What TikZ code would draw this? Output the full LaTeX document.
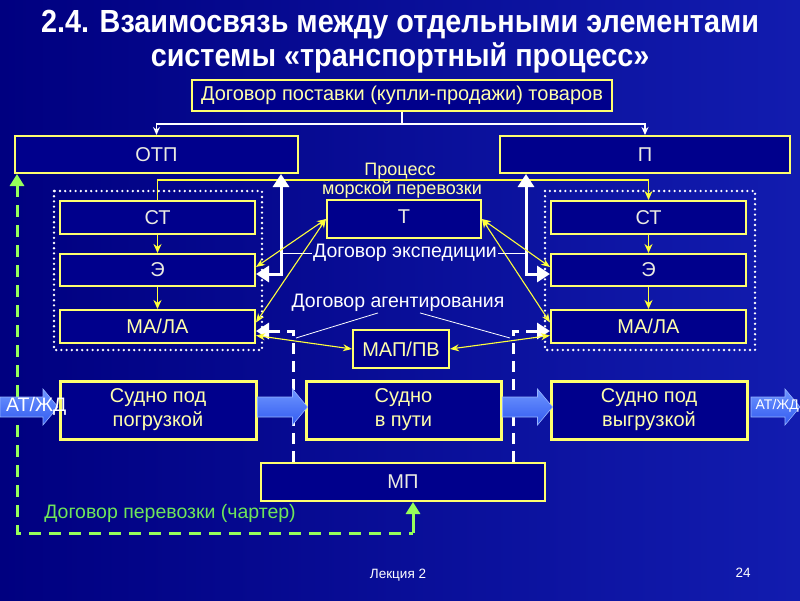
\documentclass[tikz,border=0pt]{standalone}
\usepackage{fontspec}
\setmainfont{Liberation Sans}
\newfontfamily\titlefont[FakeStretch=0.9]{Liberation Sans}
\usetikzlibrary{arrows.meta,calc}
\definecolor{bgL}{RGB}{0,0,128}
\definecolor{bgR}{RGB}{18,28,175}
\definecolor{boxfill}{RGB}{0,0,140}
\definecolor{boxyel}{RGB}{255,255,110}
\definecolor{arryel}{RGB}{255,255,60}
\definecolor{txty}{RGB}{255,255,170}
\definecolor{txtw}{RGB}{235,235,225}
\definecolor{grn}{RGB}{150,255,90}
\definecolor{grntxt}{RGB}{110,230,90}
\definecolor{baA}{RGB}{110,150,255}
\definecolor{baB}{RGB}{50,90,240}
\definecolor{baC}{RGB}{150,180,255}
\tikzset{
  box/.style={draw=boxyel, line width=2pt, fill=boxfill, inner sep=0pt,
    font=\fontsize{20}{23}\selectfont, text=txtw},
  ybox/.style={box, text=txty},
  sbox/.style={box, line width=3pt, align=center, text=txty,
    font=\fontsize{20}{24}\selectfont},
  yl/.style={draw=arryel, line width=1.6pt},
  yarr/.style={yl, -{Stealth[length=9pt,width=8pt]}},
  ydbl/.style={draw=arryel, line width=1.1pt,
    {Stealth[length=9pt,width=7pt]}-{Stealth[length=9pt,width=7pt]}},
  wthinarr/.style={draw=white, line width=1.5pt, -{Stealth[length=8pt,width=7pt]}},
  wthin/.style={draw=white, line width=0.8pt},
  wthick/.style={draw=white, line width=3pt},
  whead/.style={-{Triangle[length=13pt,width=16pt]}},
  wdash/.style={draw=white, line width=3pt, dash pattern=on 11pt off 7pt},
  gdash/.style={draw=grn, line width=3pt, dash pattern=on 12pt off 8pt},
  dotframe/.style={draw=white, line width=2.6pt, line cap=round, dash pattern=on 0pt off 5.2pt},
  lbl/.style={inner sep=1pt, font=\fontsize{19.5}{22}\selectfont, text=white},
  plbl/.style={inner sep=0pt, font=\fontsize{18}{21}\selectfont, text=txty},
  title/.style={inner sep=0pt, font=\titlefont\bfseries\fontsize{32}{36}\selectfont, text=white},
  foot/.style={inner sep=0pt, font=\fontsize{13.5}{16}\selectfont, text=white},
  barrowsty/.style={top color=baA, bottom color=baB, draw=baC, line width=0.6pt},
  pics/barrow/.style={code={
    \shade[barrowsty] (0,-10) -- ({#1-15},-10) -- ({#1-15},-18) -- (#1,0)
      -- ({#1-15},18) -- ({#1-15},10) -- (0,10) -- cycle;}}
}
\begin{document}
\begin{tikzpicture}[x=1pt,y=-1pt]
\useasboundingbox (0,0) rectangle (800,600);
\clip (0,0) rectangle (800,600);
\shade[left color=bgL, right color=bgR] (0,0) rectangle (800,600);

% title
\node[title] (t1) at (400,25) {2.4. Взаимосвязь между отдельными элементами};
\node[title] (t2) at (400,58) {системы «транспортный процесс»};

% dotted frames
\draw[dotframe] (54,191) rectangle (262,350);
\draw[dotframe] (545,191) rectangle (755,350);

% boxes
\node[ybox, minimum width=420, minimum height=31] (dog) at (402,95.5) {Договор поставки (купли-продажи) товаров};
\node[box, minimum width=283, minimum height=37] (otp) at (156.5,154.5) {ОТП};
\node[box, minimum width=290, minimum height=37] (p) at (645,154.5) {П};
\node[box, minimum width=195, minimum height=33] (stL) at (157.5,217.5) {СТ};
\node[box, minimum width=195, minimum height=32] (eL) at (157.5,270) {Э};
\node[ybox, minimum width=195, minimum height=33] (mlL) at (157.5,326.5) {МА/ЛА};
\node[box, minimum width=195, minimum height=33] (stR) at (648.5,217.5) {СТ};
\node[box, minimum width=195, minimum height=32] (eR) at (648.5,270) {Э};
\node[ybox, minimum width=195, minimum height=33] (mlR) at (648.5,326.5) {МА/ЛА};
\node[box, minimum width=154, minimum height=38] (t) at (404,219) {\raisebox{4pt}{Т}};
\node[ybox, minimum width=96, minimum height=38] (map) at (401,349) {МАП/ПВ};
\node[sbox, minimum width=196, minimum height=58] (s1) at (158,410) {Судно под\\погрузкой};
\node[sbox, minimum width=195, minimum height=58] (s2) at (403.5,410) {Судно\\в пути};
\node[sbox, minimum width=196, minimum height=58] (s3) at (649,410) {Судно под\\выгрузкой};
\node[box, minimum width=284, minimum height=38] (mp) at (403,482) {МП};

% labels
\node[plbl] (pr1) at (400,171) {Процесс};
\node[plbl] (pr2) at (402,190) {морской перевозки};
\node[lbl] (dexp) at (405,253) {Договор экспедиции};
\node[lbl] (dag) at (398,303) {Договор агентирования};
\node[inner sep=0pt, font=\fontsize{19.5}{22}\selectfont, text=grntxt] (dch) at (170,513) {Договор перевозки (чартер)};

% coordinates
\coordinate (j1) at (402,124);
\coordinate (yc) at (400,180);
\coordinate (wL) at (281,274);
\coordinate (wR) at (526,274);
\coordinate (dL) at (293,331);
\coordinate (dR) at (513,331);
\coordinate (aL) at (296,338);
\coordinate (aR) at (510,338);
\coordinate (gA) at (17,533);
\coordinate (gB) at (413,533);

% supply contract arrows
\draw[wthinarr] (dog.south) -- (j1) -| (otp.north);
\draw[wthinarr] (j1) -| (p.north);

% sea transport process line
\draw[yl] (yc) -| (stL.north);
\draw[yarr] (yc) -| (stR.north);

% vertical yellow arrows inside groups
\draw[yarr] (stL.south) -- (eL.north);
\draw[yarr] (eL.south) -- (mlL.north);
\draw[yarr] (stR.south) -- (eR.north);
\draw[yarr] (eR.south) -- (mlR.north);

% white thick arrows
\draw[wthick, {Triangle[length=13pt,width=16pt]}-{Triangle[length=13pt,width=16pt]}] (otp.south -| wL) -- (wL) -- (eL.east |- wL);
\draw[wthick, {Triangle[length=13pt,width=16pt]}-{Triangle[length=13pt,width=16pt]}] (p.south -| wR) -- (wR) -- (eR.west |- wR);

% white dashed arrows from MP
\draw[wdash, whead] (mp.north -| dL) -- (dL) -- (mlL.east |- dL);
\draw[wdash, whead] (mp.north -| dR) -- (dR) -- (mlR.west |- dR);

% yellow double arrows
\draw[ydbl] (t.west) -- ([yshift=3pt]eL.east);
\draw[ydbl] (t.west) -- ([yshift=4pt]mlL.east);
\draw[ydbl] (t.east) -- ([yshift=3pt]eR.west);
\draw[ydbl] (t.east) -- ([yshift=4pt]mlR.west);
\draw[ydbl] (map.west) -- ([yshift=-9pt]mlL.east);
\draw[ydbl] (map.east) -- ([yshift=-9pt]mlR.west);

% thin label leaders
\draw[wthin] (dexp.west) -- (dexp.west -| wL);
\draw[wthin] (dexp.east) -- (dexp.east -| wR);
\draw[wthin] ([xshift=-20pt]dag.south) -- (aL);
\draw[wthin] ([xshift=22pt]dag.south) -- (aR);

% green charter contract
\draw[gdash, {Triangle[length=12pt,width=14pt]}-] (otp.south -| gA) -- (gA) -- (gB);
\draw[draw=grn, line width=3pt, -{Triangle[length=12pt,width=14pt]}] (gB) -- (mp.south -| gB);

% block arrows
\pic at (0,407) {barrow=58};
\pic at ([yshift=3pt]s1.east) {barrow=50};
\pic at ([yshift=3pt]s2.east) {barrow=50};
\pic at (751,407) {barrow=49};
\node[lbl, anchor=west] (atL) at (5,406) {АТ/ЖД};
\node[inner sep=0pt, font=\fontsize{14}{16}\selectfont, text=white, anchor=east] (atR) at (799,406) {АТ/ЖД};

% footer
\node[foot] (lec) at (398,575) {Лекция 2};
\node[foot] (pg) at (743,573) {24};
\end{tikzpicture}
\end{document}
